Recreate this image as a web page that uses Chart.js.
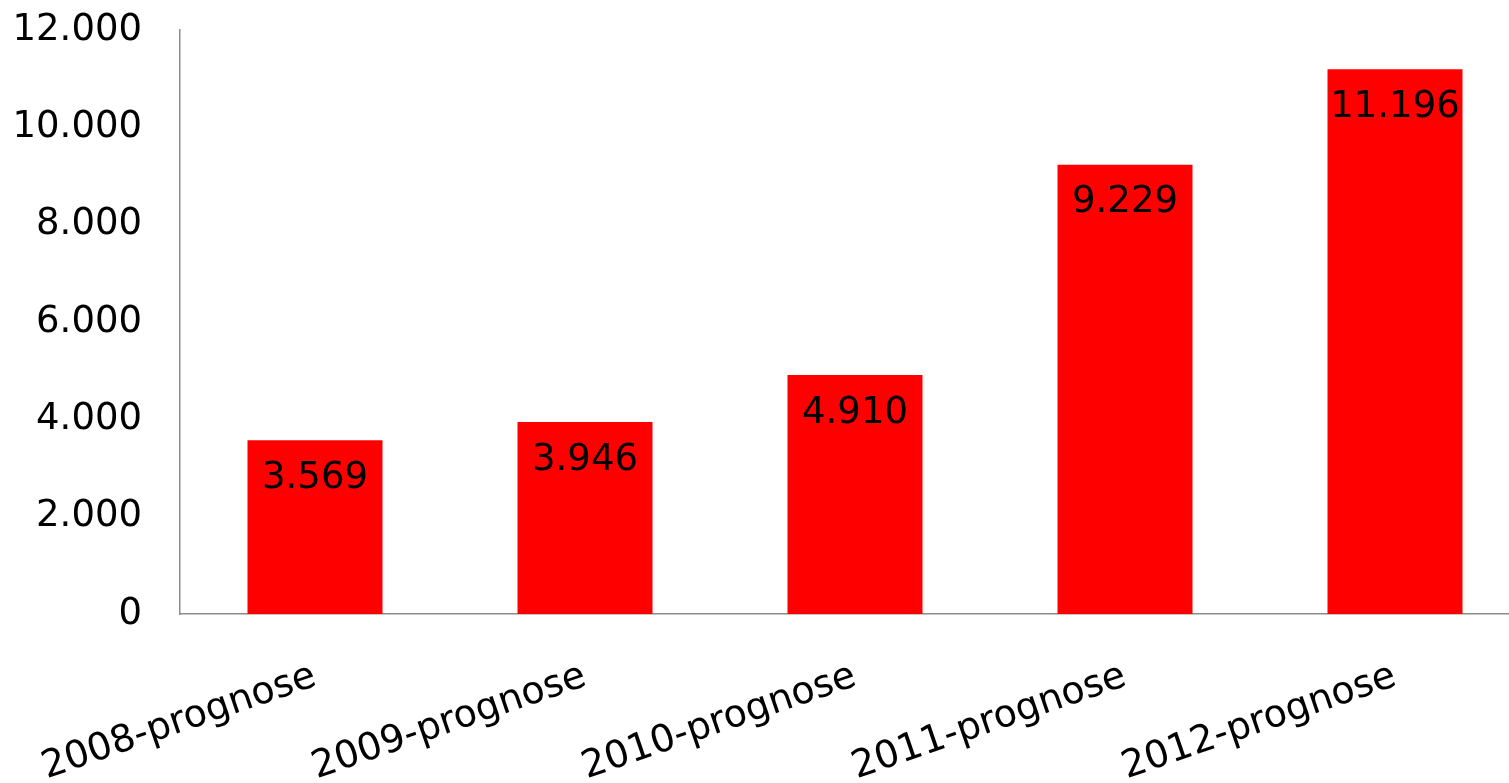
<!DOCTYPE html>
<html>
<head>
<meta charset="utf-8">
<script src="https://cdn.jsdelivr.net/npm/chart.js@4/dist/chart.umd.min.js"></script>
<style>
html,body{margin:0;padding:0;background:#fff;overflow:hidden;width:1509px;height:783px;}
#wrap{width:1530px;height:783px;}
</style>
</head>
<body>
<div id="wrap"><canvas id="c" width="1530" height="783"></canvas></div>
<script>
const categories = ['2008-prognose','2009-prognose','2010-prognose','2011-prognose','2012-prognose'];
const values = [3569, 3946, 4910, 9229, 11196];
const yTicks = [0, 2000, 4000, 6000, 8000, 10000, 12000];

function fmt(v){ return String(v).replace(/\B(?=(\d{3})+(?!\d))/g, '.'); }

const FONT = "'DejaVu Sans', Verdana, sans-serif";

const valueLabels = {
  id: 'valueLabels',
  afterDatasetsDraw(chart){
    const ctx = chart.ctx;
    const meta = chart.getDatasetMeta(0);
    ctx.save();
    ctx.font = "37px " + FONT;
    ctx.fillStyle = '#000';
    ctx.textAlign = 'center';
    ctx.textBaseline = 'middle';
    meta.data.forEach((bar, i) => {
      ctx.fillText(fmt(values[i]), bar.x, bar.y + 38);
    });
    ctx.restore();
  }
};

new Chart(document.getElementById('c'), {
  type: 'bar',
  data: {
    labels: categories,
    datasets: [{
      data: values,
      backgroundColor: '#ff0000',
      borderWidth: 0,
      categoryPercentage: 1.0,
      barPercentage: 0.5
    }]
  },
  options: {
    responsive: false,
    animation: false,
    layout: { padding: { left: 15, top: 30, right: 0, bottom: 0 } },
    plugins: { legend: { display: false }, tooltip: { enabled: false } },
    scales: {
      x: {
        grid: { display: false, drawTicks: false },
        border: { display: true, color: '#8c8c8c', width: 1.5 },
        ticks: {
          color: '#000',
          font: { family: FONT, size: 38 },
          minRotation: 19,
          maxRotation: 19,
          padding: 40,
          autoSkip: false
        },
        afterFit(axis){ axis.height = 169; axis.paddingLeft = 0; axis.paddingRight = 0; }
      },
      y: {
        min: 0,
        max: 12000,
        afterBuildTicks(axis){ axis.ticks = yTicks.map(v => ({ value: v })); },
        grid: { display: false, drawTicks: false },
        border: { display: true, color: '#8c8c8c', width: 1.5 },
        ticks: {
          color: '#000',
          font: { family: FONT, size: 37 },
          padding: 38,
          callback: v => fmt(v)
        },
        afterFit(axis){ axis.width = 165; axis.paddingTop = 0; axis.paddingBottom = 0; }
      }
    }
  },
  plugins: [valueLabels]
});
</script>
</body>
</html>
